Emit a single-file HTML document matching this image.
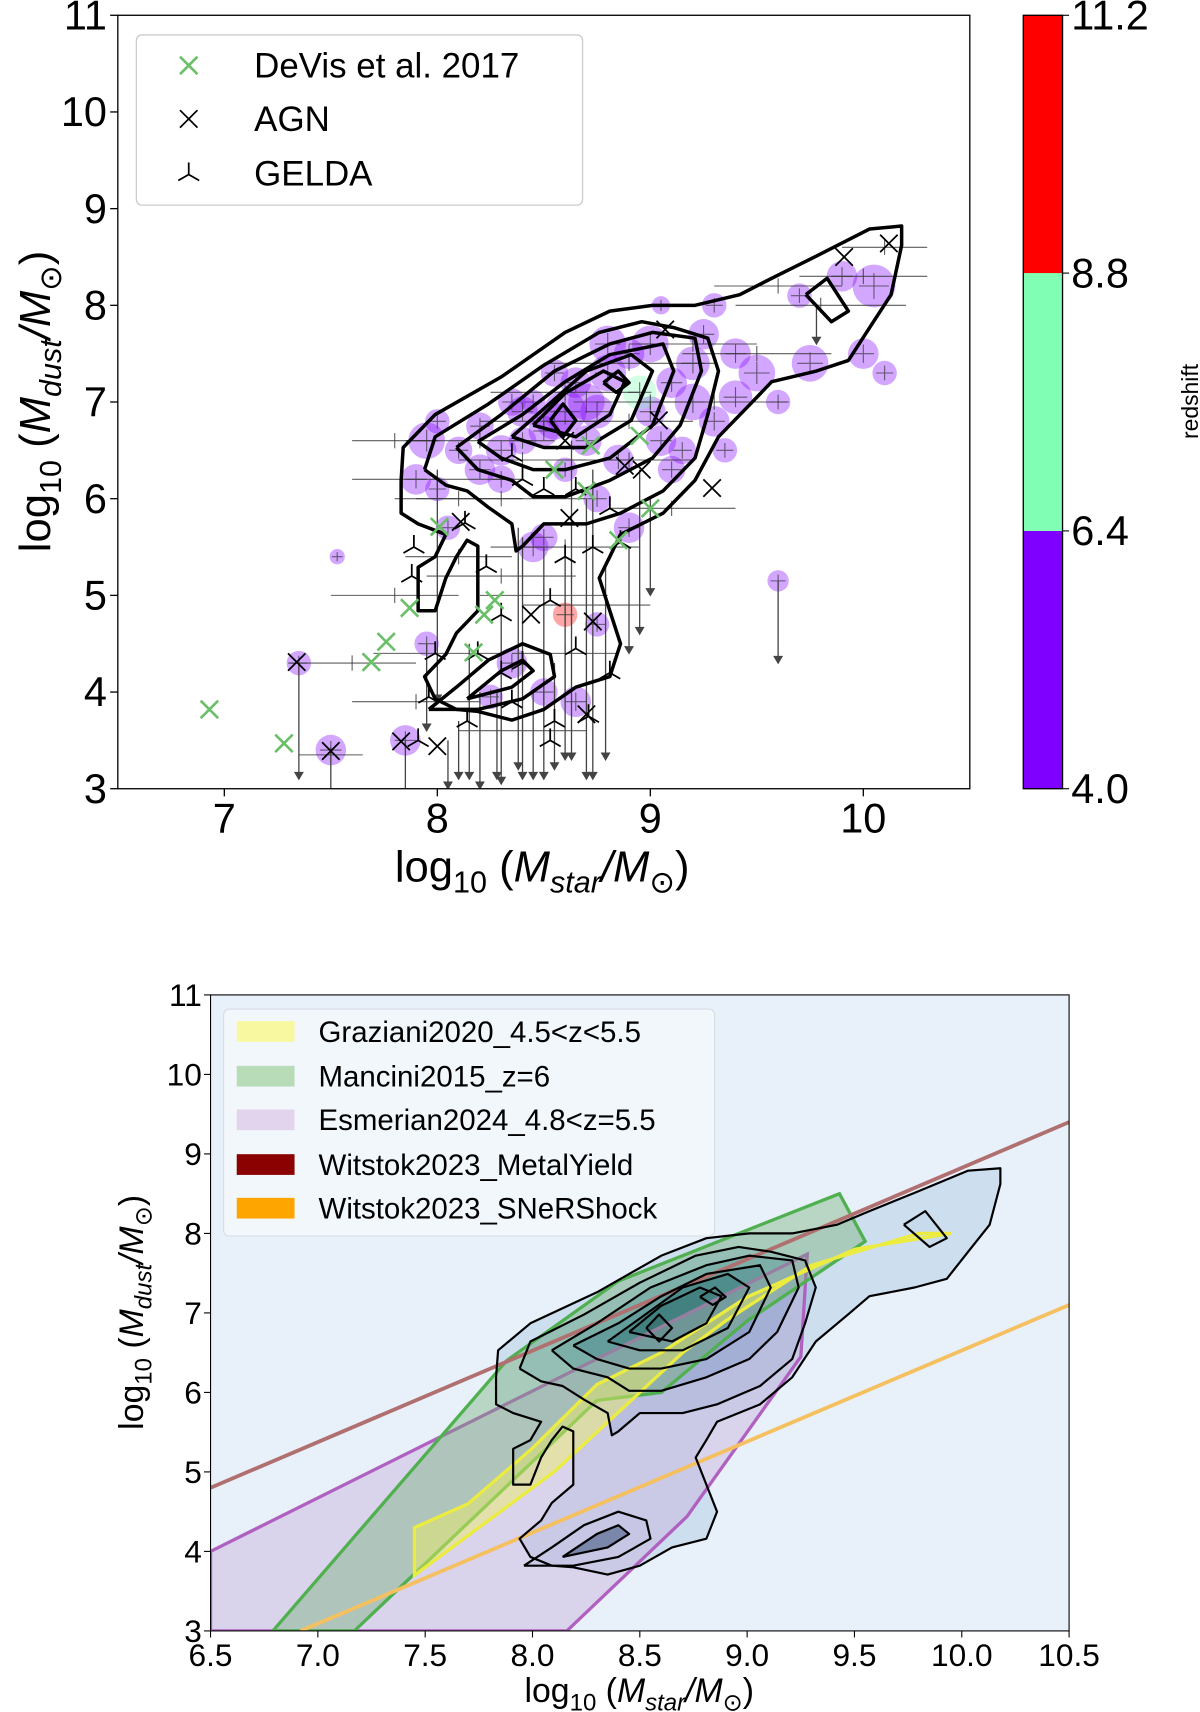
<!DOCTYPE html>
<html><head><meta charset="utf-8"><style>
html,body{margin:0;padding:0;background:#fff;}
svg{display:block;font-family:"Liberation Sans","DejaVu Sans",sans-serif;}
</style></head><body>
<svg id="fig" width="1200" height="1712" viewBox="0 0 1100 1569.33" xmlns="http://www.w3.org/2000/svg">
<defs>
<clipPath id="clipTop"><rect x="108" y="14" width="781" height="709"/></clipPath>
<clipPath id="clipBot"><rect x="193" y="912" width="787" height="583"/></clipPath>
</defs>
<g id="top"></g>
<g id="bot"></g>
</svg>
<script>
// ---------------- DATA ----------------
const devisPts = [[6.93,3.82],[7.28,3.47],[7.69,4.31],[7.76,4.52],[7.87,4.87],[8.01,5.71],[8.17,4.41],[8.27,4.95],[8.22,4.80],[8.70,6.08],[8.85,5.57],[9.0,5.9],[8.55,6.3],[8.72,6.55],[8.95,6.65]];
const agnPts = [[7.34,4.31],[7.5,3.39],[7.83,3.49],[8.0,3.44],[8.11,5.76],[8.44,4.8],[8.6,6.6],[9.04,6.81],[9.07,7.75],[9.29,6.11],[9.91,8.5],[10.12,8.64],[8.88,6.34],[8.73,4.73],[8.70,3.77],[8.96,6.3],[8.62,5.8]];
const geldaPts = [[7.99,4.4],[7.88,5.2],[7.89,5.5],[8.23,5.3],[8.3,4.8],[8.53,4.95],[8.65,4.45],[8.81,4.2],[8.35,3.9],[8.14,3.7],[8.53,3.5],[7.96,3.95],[8.73,5.5],[8.5,6.1],[8.65,6.1],[8.81,5.9],[8.35,6.45],[8.6,5.4],[8.71,3.75],[7.91,3.5],[8.19,4.4],[8.3,4.2],[8.4,4.3],[8.86,5.55],[8.13,5.75],[8.4,6.2],[8.55,3.7]];
const circles = [[8.55,6.8,12],[8.6,6.9,14],[8.5,6.7,10],[8.7,7.0,12],[8.65,7.2,10],[8.4,6.6,9],[8.3,6.5,10],[8.45,7.0,8],[8.8,7.3,12],[8.9,7.5,10],[9.0,7.6,12],[9.1,7.2,10],[9.2,7.0,12],[9.3,6.8,10],[9.15,6.5,9],[9.5,7.3,12],[9.6,7.0,8],[9.75,7.4,12],[9.7,8.1,8],[9.9,8.3,10],[10.05,8.2,14],[10.0,7.5,10],[10.1,7.3,8],[9.4,7.5,10],[9.3,8.0,8],[8.2,6.3,10],[8.1,6.5,9],[7.95,6.6,12],[7.9,6.2,10],[8.0,6.1,8],[8.3,6.2,9],[8.45,5.5,10],[8.5,5.6,9],[8.9,5.7,10],[8.75,6.0,9],[8.6,6.3,8],[8.85,6.4,10],[9.0,6.9,10],[9.1,6.3,9],[8.35,4.3,10],[8.5,4.0,9],[8.65,3.9,10],[8.25,3.95,8],[7.85,3.5,10],[7.5,3.4,10],[7.35,4.3,8],[7.95,4.5,8],[8.6,4.8,8],[8.75,4.7,8],[9.6,5.15,7],[7.53,5.4,5],[8.05,5.7,8],[8.0,6.8,8],[8.7,6.6,10],[8.55,7.3,9],[8.35,7.0,9],[8.8,7.6,12],[9.25,7.7,10],[9.05,8.0,6],[8.95,7.1,11],[8.75,6.9,11],[8.2,6.75,9],[8.4,6.9,10],[9.2,7.4,11],[9.4,7.05,11],[9.05,6.6,10],[9.35,6.5,8]];
const circleZ = [5,5,5,5,5,5,5,5,5,5,5,5,5,5,5,5,5,5,5,5,5,5,5,5,5,5,5,5,5,5,5,5,5,5,5,5,5,5,5,5,5,5,5,5,5,5,5,9,5,5,5,5,5,5,5,5,5,5,5,7,5,5,5,5,5,5,5];
const xErrs = [[7.6,4.3,0.3],[8.1,5.4,0.25],[7.8,5.0,0.3],[8.0,6.2,0.4],[8.2,6.6,0.35],[8.5,6.8,0.3],[8.6,7.1,0.35],[8.9,7.4,0.4],[9.2,7.6,0.3],[9.5,7.5,0.35],[9.8,8.0,0.4],[10.0,8.3,0.3],[10.1,8.6,0.2],[9.6,8.2,0.3],[8.3,6.0,0.4],[8.6,5.5,0.35],[8.9,6.4,0.3],[8.3,5.2,0.35],[8.0,4.4,0.3],[8.4,3.6,0.3],[8.6,4.4,0.25],[7.9,3.9,0.3],[8.7,4.9,0.3],[8.9,6.8,0.3],[9.3,7.0,0.35],[8.4,6.4,0.3],[8.1,6.0,0.3],[7.8,6.6,0.2],[9.0,7.0,0.25],[9.1,5.9,0.3],[8.5,5.0,0.3],[7.5,3.35,0.15]];
const arrows = [[7.35,4.3,3.1],[7.5,3.4,2.9],[7.85,3.5,2.9],[8.15,4.5,3.1],[8.2,4.0,3.0],[8.3,4.8,3.05],[8.4,5.6,3.1],[8.5,5.5,3.1],[8.6,5.5,3.3],[8.7,6.0,3.1],[8.73,6.3,3.1],[8.9,5.5,4.4],[8.95,6.3,4.6],[9.0,6.0,5.0],[9.6,5.15,4.3],[9.78,8.0,7.6],[8.28,4.0,3.1],[8.05,3.5,3.0],[8.45,4.0,3.1],[8.55,4.3,3.2],[8.1,3.7,3.1],[8.63,6.6,3.3],[8.38,5.7,3.2],[8.0,6.3,3.9],[7.95,4.5,3.6],[8.79,5.3,3.3]];
// contours (data coordinates)
const contour1 = [[7.83,6.19],[7.84,6.53],[7.99,6.87],[8.30,7.26],[8.60,7.72],[8.81,7.94],[9.01,8.0],[9.21,8.0],[9.42,8.11],[9.57,8.28],[9.78,8.51],[10.03,8.79],[10.18,8.82],[10.18,8.62],[10.13,8.11],[10.03,7.77],[9.93,7.43],[9.78,7.32],[9.57,7.21],[9.47,6.98],[9.32,6.64],[9.21,6.19],[9.06,5.85],[8.86,5.63],[8.81,5.40],[8.76,5.18],[8.81,4.84],[8.86,4.50],[8.81,4.16],[8.65,4.05],[8.50,3.82],[8.35,3.71],[8.19,3.80],[8.09,3.82],[7.99,3.93],[7.94,4.16],[8.04,4.39],[8.09,4.61],[8.19,4.84],[8.19,5.29],[8.19,5.51],[8.14,5.57],[8.09,5.40],[8.04,5.18],[7.99,4.84],[7.91,4.84],[7.91,5.29],[7.99,5.40],[8.04,5.63],[7.91,5.74],[7.83,5.85],[7.83,6.19]];
const contour2 = [[7.94,6.30],[7.99,6.64],[8.24,6.98],[8.50,7.38],[8.76,7.72],[8.96,7.83],[9.11,7.77],[9.27,7.66],[9.32,7.32],[9.27,6.87],[9.21,6.42],[9.06,6.08],[8.86,5.85],[8.70,5.74],[8.50,5.74],[8.40,5.51],[8.37,5.46],[8.35,5.74],[8.24,5.91],[8.14,6.08],[8.04,6.14],[7.94,6.30]];
const contour3 = [[8.09,6.53],[8.30,6.87],[8.55,7.32],[8.81,7.60],[9.01,7.72],[9.21,7.66],[9.24,7.32],[9.14,6.76],[9.01,6.42],[8.81,6.19],[8.60,6.02],[8.45,6.02],[8.35,6.19],[8.19,6.30],[8.09,6.53]];
const contour4 = [[8.19,6.59],[8.40,6.87],[8.60,7.21],[8.81,7.49],[9.06,7.60],[9.11,7.32],[9.01,6.76],[8.81,6.42],[8.60,6.30],[8.45,6.30],[8.30,6.42],[8.19,6.59]];
const contour5 = [[8.35,6.64],[8.50,6.93],[8.70,7.32],[8.91,7.49],[9.01,7.32],[8.91,6.81],[8.70,6.53],[8.50,6.53],[8.35,6.64]];
const contour6 = [[8.45,6.76],[8.60,7.09],[8.78,7.32],[8.88,7.21],[8.81,6.87],[8.65,6.64],[8.45,6.76]];
const contour7 = [[8.53,6.81],[8.59,6.98],[8.65,6.81],[8.59,6.64],[8.53,6.81]];
const contour8 = [[8.78,7.2],[8.85,7.32],[8.9,7.2],[8.84,7.1],[8.78,7.2]];
const contourL1 = [[7.96,3.82],[8.09,4.05],[8.24,4.33],[8.40,4.50],[8.53,4.39],[8.55,4.16],[8.40,3.93],[8.19,3.82],[7.96,3.82]];
const contourL2 = [[8.14,3.93],[8.30,4.22],[8.40,4.33],[8.45,4.22],[8.35,4.05],[8.14,3.93]];
const contourR = [[9.73,8.11],[9.83,8.28],[9.93,7.94],[9.85,7.83],[9.73,8.11]];
const contours = [contour1,contour2,contour3,contour4,contour5,contour6,contour7];
const smallContours = [contour8,contourL1,contourL2,contourR];
// bottom panel polygons
const esmerian = [[6.5,4.0],[9.28,7.74],[9.25,6.45],[8.72,4.44],[8.16,3.0],[6.5,3.0]];
const mancini = [[6.79,3.0],[7.88,6.4],[8.4,7.4],[9.43,8.5],[9.55,7.9],[9.0,6.9],[8.6,6.0],[8.3,5.9],[7.17,3.0]];
const graziani = [[7.45,4.3],[7.7,4.6],[8.0,5.3],[8.3,6.1],[8.6,6.5],[9.0,7.2],[9.5,7.8],[9.95,8.0],[9.8,8.0],[9.3,7.6],[8.9,6.9],[8.7,6.5],[8.5,6.0],[8.3,5.5],[8.1,5.0],[7.8,4.4],[7.45,3.7]];
const metalYield = [[6.5,4.8],[10.5,9.4]];
const sneShock = [[6.92,3.0],[10.5,7.1]];
const xTicks = [7,8,9,10];
const yTicks = [3,4,5,6,7,8,9,10,11];
const xTicksB = [6.5,7.0,7.5,8.0,8.5,9.0,9.5,10.0,10.5];
const cbBounds = [4.0,6.4,8.8,11.2];
const cbColors = ['#8000ff','#80ffb4','#ff0000'];

// ---------------- HELPERS ----------------
const NS='http://www.w3.org/2000/svg';
function mk(tag,attrs,parent){const e=document.createElementNS(NS,tag);for(const k in attrs)e.setAttribute(k,attrs[k]);parent.appendChild(e);return e;}
const topG=document.getElementById('top'), botG=document.getElementById('bot');
const T={x0:108,x1:889,y0:14,y1:723}, B={x0:193,x1:980,y0:912,y1:1495};
function sx(P,v){return P.x0+(v-6.5)/4*(P.x1-P.x0);}
function sy(P,v){return P.y1-(v-3)/8*(P.y1-P.y0);}
function pts(P,arr){return arr.map(p=>sx(P,p[0]).toFixed(1)+','+sy(P,p[1]).toFixed(1)).join(' ');}
function zColor(z){for(let i=0;i<3;i++){if(z<cbBounds[i+1])return cbColors[i];}return cbColors[2];}

// ---------------- TOP PANEL ----------------
const tc=mk('g',{'clip-path':'url(#clipTop)'},topG);


circles.forEach((c,i)=>{const cx=sx(T,c[0]),cy=sy(T,c[1]),r=c[2]*1.4;
const e=mk('circle',{cx:cx,cy:cy,r:r,fill:zColor(circleZ[i]),'fill-opacity':0.35},tc);


const h=mk('path',{d:`M${cx-r*0.7},${cy}L${cx+r*0.7},${cy}M${cx},${cy-r*0.6}L${cx},${cy+r*0.6}`,stroke:'#333','stroke-width':1,'stroke-opacity':0.7,fill:'none'},tc);

});
xErrs.forEach(d=>{const e=mk('line',{x1:sx(T,d[0]-d[2]),x2:sx(T,d[0]+d[2]),y1:sy(T,d[1]),y2:sy(T,d[1]),stroke:'#333','stroke-width':1,'stroke-opacity':0.8},tc);


const v=mk('line',{x1:sx(T,d[0]),x2:sx(T,d[0]),y1:sy(T,d[1])-7,y2:sy(T,d[1])+7,stroke:'#333','stroke-width':1,'stroke-opacity':0.8},tc);

});
arrows.forEach(a=>{const x=sx(T,a[0]),y1=sy(T,a[1]),y2=sy(T,a[2]);
const e=mk('path',{d:`M${x},${y1}L${x},${y2}M${x-3.5},${y2-6}L${x},${y2}L${x+3.5},${y2-6}Z`,stroke:'#444','stroke-width':1.2,fill:'#444'},tc);

});
contours.concat(smallContours).forEach(c=>{const e=mk('polyline',{points:pts(T,c),fill:'none',stroke:'#000','stroke-width':3.2,'stroke-linejoin':'round'},tc);

});
function cross(g,x,y,s,col,w){return mk('path',{d:`M${x-s},${y-s}L${x+s},${y+s}M${x-s},${y+s}L${x+s},${y-s}`,stroke:col,'stroke-width':w,fill:'none'},g);}
function tri(g,x,y,s,col,w){return mk('path',{d:`M${x},${y}L${x},${y-s}M${x},${y}L${x-s*0.87},${y+s*0.5}M${x},${y}L${x+s*0.87},${y+s*0.5}`,stroke:col,'stroke-width':w,fill:'none'},g);}
geldaPts.forEach(p=>{const e=tri(tc,sx(T,p[0]),sy(T,p[1]),11,'#000',1.6);

});
agnPts.forEach(p=>{const e=cross(tc,sx(T,p[0]),sy(T,p[1]),8,'#000',1.6);

});
devisPts.forEach(p=>{const e=cross(tc,sx(T,p[0]),sy(T,p[1]),8,'#6abf69',2.4);

});
const tf=mk('rect',{x:T.x0,y:T.y0,width:T.x1-T.x0,height:T.y1-T.y0,fill:'none',stroke:'#000','stroke-width':1.2},topG);


xTicks.forEach(v=>{const x=sx(T,v);mk('line',{x1:x,x2:x,y1:T.y1,y2:T.y1+7,stroke:'#000','stroke-width':1.2},topG);
const t=mk('text',{x:x,y:T.y1+40,'font-size':38,'text-anchor':'middle'},topG);t.textContent=v;

});
yTicks.forEach(v=>{const y=sy(T,v);mk('line',{x1:T.x0-7,x2:T.x0,y1:y,y2:y,stroke:'#000','stroke-width':1.2},topG);
const t=mk('text',{x:T.x0-10,y:y+13,'font-size':38,'text-anchor':'end'},topG);t.textContent=v;

});
{const t=mk('text',{x:497,y:808,'font-size':40,'text-anchor':'middle'},topG);
t.innerHTML='log<tspan font-size="28" dy="10">10</tspan><tspan dy="-10"> (</tspan><tspan font-style="italic">M</tspan><tspan font-size="28" dy="10" font-style="italic">star</tspan><tspan dy="-10" font-style="italic">/M</tspan><tspan font-size="28" dy="10">⊙</tspan><tspan dy="-10">)</tspan>';

}
{const t=mk('text',{x:0,y:0,'font-size':40,'text-anchor':'middle',transform:'translate(46,368) rotate(-90)'},topG);
t.innerHTML='log<tspan font-size="28" dy="10">10</tspan><tspan dy="-10"> (</tspan><tspan font-style="italic">M</tspan><tspan font-size="28" dy="10" font-style="italic">dust</tspan><tspan dy="-10" font-style="italic">/M</tspan><tspan font-size="28" dy="10">⊙</tspan><tspan dy="-10">)</tspan>';

}
// legend top
{const lg=mk('g',{},topG);


mk('rect',{x:125,y:32,width:409,height:156,rx:5,fill:'#fff',stroke:'#ccc','stroke-width':1.2},lg);
const e1=cross(lg,173,60,8,'#6abf69',2.4);


const e2=cross(lg,173,109,8,'#000',1.6);


const e3=tri(lg,173,160,11,'#000',1.6);


[['DeVis et al. 2017',71],['AGN',120],['GELDA',170]].forEach(r=>{const t=mk('text',{x:233,y:r[1],'font-size':32},lg);t.textContent=r[0];

});}
// colorbar
{const cb=mk('g',{},topG);


const cy=v=>723-(v-4.0)/7.2*709;
for(let i=0;i<3;i++){const r=mk('rect',{x:938,y:cy(cbBounds[i+1]),width:36,height:cy(cbBounds[i])-cy(cbBounds[i+1]),fill:cbColors[i]},cb);

}
mk('rect',{x:938,y:14,width:36,height:709,fill:'none',stroke:'#000','stroke-width':1.2},cb);
cbBounds.forEach(v=>{const y=cy(v);mk('line',{x1:974,x2:980,y1:y,y2:y,stroke:'#000'},cb);
const t=mk('text',{x:982,y:y+13,'font-size':38},cb);t.textContent=v.toFixed(1);

});
const t=mk('text',{x:0,y:0,'font-size':21,'text-anchor':'middle',transform:'translate(1098,368) rotate(-90)'},cb);t.textContent='redshift';

}

// ---------------- BOTTOM PANEL ----------------
const bc=mk('g',{'clip-path':'url(#clipBot)'},botG);


mk('rect',{x:B.x0,y:B.y0,width:B.x1-B.x0,height:B.y1-B.y0,fill:'#e8f0fa'},bc);
const blues=['#c6d9ec','#a2c2dc','#7aa6c8','#4f88b0','#2f6d96','#1f5a84','#154a70','#0f3e60'];
[contour1,contourL1,contourR].forEach(c=>{const e=mk('polygon',{points:pts(B,c),fill:blues[0],'fill-opacity':0.8},bc);

});
[contour2,contour3,contour4,contour5,contour6,contour7,contourL2].forEach((c,i)=>{const e=mk('polygon',{points:pts(B,c),fill:blues[Math.min(i+1,7)],'fill-opacity':0.75},bc);

});
{const e=mk('polygon',{points:pts(B,esmerian),fill:'#c8b0dc','fill-opacity':0.45,stroke:'#b060c0','stroke-width':3},bc);

}
{const e=mk('polygon',{points:pts(B,mancini),fill:'#70b070','fill-opacity':0.4,stroke:'#50b050','stroke-width':3},bc);

}
{const e=mk('polygon',{points:pts(B,graziani),fill:'#f0f060','fill-opacity':0.45,stroke:'#ecec40','stroke-width':3},bc);

}
{const e=mk('polyline',{points:pts(B,metalYield),stroke:'#b07070','stroke-width':3.5,fill:'none'},bc);

}
{const e=mk('polyline',{points:pts(B,sneShock),stroke:'#f5c060','stroke-width':3.5,fill:'none'},bc);

}
contours.concat(smallContours).forEach(c=>{const e=mk('polyline',{points:pts(B,c),fill:'none',stroke:'#000','stroke-width':2,'stroke-linejoin':'round'},bc);

});
{const e=mk('rect',{x:B.x0,y:B.y0,width:B.x1-B.x0,height:B.y1-B.y0,fill:'none',stroke:'#000','stroke-width':1},botG);

}
xTicksB.forEach(v=>{const x=sx(B,v);mk('line',{x1:x,x2:x,y1:B.y1,y2:B.y1+6,stroke:'#000'},botG);
const t=mk('text',{x:x,y:B.y1+32,'font-size':29,'text-anchor':'middle'},botG);t.textContent=v.toFixed(1);

});
yTicks.forEach(v=>{const y=sy(B,v);mk('line',{x1:B.x0-6,x2:B.x0,y1:y,y2:y,stroke:'#000'},botG);
const t=mk('text',{x:B.x0-8,y:y+10,'font-size':29,'text-anchor':'end'},botG);t.textContent=v;

});
{const t=mk('text',{x:586,y:1560,'font-size':31,'text-anchor':'middle'},botG);
t.innerHTML='log<tspan font-size="22" dy="8">10</tspan><tspan dy="-8"> (</tspan><tspan font-style="italic">M</tspan><tspan font-size="22" dy="8" font-style="italic">star</tspan><tspan dy="-8" font-style="italic">/M</tspan><tspan font-size="22" dy="8">⊙</tspan><tspan dy="-8">)</tspan>';

}
{const t=mk('text',{x:0,y:0,'font-size':31,'text-anchor':'middle',transform:'translate(131,1203) rotate(-90)'},botG);
t.innerHTML='log<tspan font-size="22" dy="8">10</tspan><tspan dy="-8"> (</tspan><tspan font-style="italic">M</tspan><tspan font-size="22" dy="8" font-style="italic">dust</tspan><tspan dy="-8" font-style="italic">/M</tspan><tspan font-size="22" dy="8">⊙</tspan><tspan dy="-8">)</tspan>';

}
{const lg=mk('g',{},botG);


mk('rect',{x:205,y:925,width:450,height:208,rx:5,fill:'#f3f7fc','fill-opacity':0.9,stroke:'#d8dde5'},lg);
[['Graziani2020_4.5<z<5.5','#f8f8a0',945],['Mancini2015_z=6','#b8dcb8',986],['Esmerian2024_4.8<z=5.5','#e2d4ec',1026],['Witstok2023_MetalYield','#8b0000',1067],['Witstok2023_SNeRShock','#ffa500',1107]].forEach(r=>{
const p=mk('rect',{x:217,y:r[2]-9,width:53,height:19,fill:r[1]},lg);


const t=mk('text',{x:292,y:r[2]+10,'font-size':27},lg);t.textContent=r[0];

});}
</script>
</body></html>
